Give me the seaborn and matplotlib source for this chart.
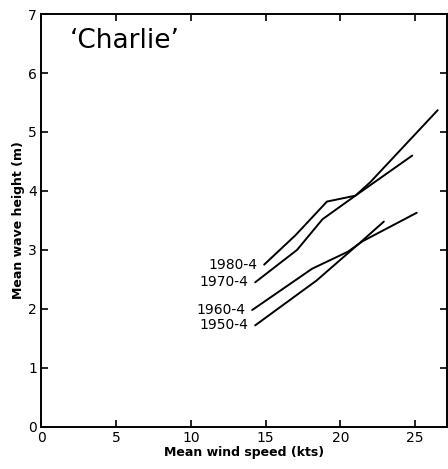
"""Mean wave height vs mean wind speed at station 'Charlie'."""

import matplotlib
matplotlib.use("Agg")
import matplotlib.pyplot as plt
import pandas as pd
import seaborn as sns

# Data
series_names = ["1980-4", "1970-4", "1960-4", "1950-4"]
wind_1980 = [14.9, 17.0, 19.1, 21.0, 22.0, 26.5]
wave_1980 = [2.75, 3.25, 3.82, 3.92, 4.15, 5.37]
wind_1970 = [14.3, 17.1, 18.8, 21.0, 24.8]
wave_1970 = [2.45, 3.0, 3.52, 3.92, 4.6]
wind_1960 = [14.1, 18.1, 20.5, 21.5, 25.1]
wave_1960 = [1.98, 2.68, 2.97, 3.15, 3.63]
wind_1950 = [14.3, 18.4, 21.3, 22.9]
wave_1950 = [1.72, 2.48, 3.12, 3.48]

x_ticks = [0, 5, 10, 15, 20, 25]
y_ticks = [0, 1, 2, 3, 4, 5, 6, 7]

winds = [wind_1980, wind_1970, wind_1960, wind_1950]
waves = [wave_1980, wave_1970, wave_1960, wave_1950]

frames = []
for name, xs, ys in zip(series_names, winds, waves):
    frames.append(pd.DataFrame({"wind": xs, "wave": ys, "period": name}))
df = pd.concat(frames, ignore_index=True)

sns.set_style("ticks", {
    "axes.edgecolor": "black",
    "text.color": "black",
    "axes.labelcolor": "black",
    "xtick.color": "black",
    "ytick.color": "black",
})
plt.rcParams["font.family"] = ["DejaVu Sans"]

fig = plt.figure(figsize=(4.48, 4.69), dpi=100)
ax = fig.add_axes([0.092, 0.09, 0.905, 0.88])

sns.lineplot(
    data=df, x="wind", y="wave", hue="period", sort=False,
    palette={n: "black" for n in series_names},
    linewidth=1.4, legend=False, ax=ax,
)

# Series labels to the left of each line start
for name, xs, ys in zip(series_names, winds, waves):
    ax.annotate(name, xy=(xs[0], ys[0]), xytext=(-5, 0),
                textcoords="offset points", ha="right", va="center",
                fontsize=10)

ax.text(1.9, 6.55, "\u2018Charlie\u2019", fontsize=19, ha="left", va="center")

ax.set_xlim(0, 27.1)
ax.set_ylim(0, 7)
ax.set_xticks(x_ticks)
ax.set_yticks(y_ticks)
ax.tick_params(direction="in", top=True, right=True, length=5,
               width=1.2, labelsize=10, pad=3)
ax.set_xticklabels([str(t) for t in x_ticks])
ax.set_yticklabels([str(t) for t in y_ticks])
for s in ax.spines.values():
    s.set_linewidth(1.4)
ax.set_xlabel("Mean wind speed (kts)", fontsize=9, fontweight="bold", labelpad=1)
ax.set_ylabel("Mean wave height (m)", fontsize=9, fontweight="bold", labelpad=2)

fig.savefig("out.png", dpi=100)
plt.close(fig)
